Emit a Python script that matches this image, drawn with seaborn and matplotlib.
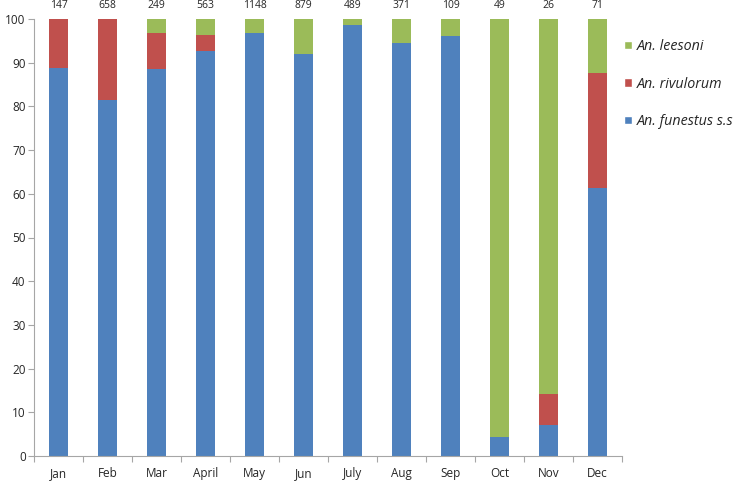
import seaborn as sns
import matplotlib.pyplot as plt
from matplotlib.patches import Patch
import numpy as np
import pandas as pd

MONTHS = ['Jan', 'Feb', 'Mar', 'April', 'May', 'Jun', 'July', 'Aug', 'Sep', 'Oct', 'Nov', 'Dec']
COUNTS = [147, 658, 249, 563, 1148, 879, 489, 371, 109, 49, 26, 71]
FUNESTUS = [88.8, 81.4, 88.6, 92.7, 96.9, 92.0, 98.6, 94.4, 96.2, 4.4, 7.1, 61.4]
RIVULORUM = [11.2, 18.6, 8.3, 3.7, 0.0, 0.0, 0.0, 0.0, 0.0, 0.0, 7.0, 26.3]
LEESONI = [0.0, 0.0, 3.1, 3.6, 3.1, 8.0, 1.4, 5.6, 3.8, 95.6, 85.9, 12.3]

BLUE = '#4F81BD'
RED = '#C0504D'
GREEN = '#9BBB59'
AXIS_GREY = '#A6A6A6'


def main():
    df = pd.DataFrame({
        'month': MONTHS,
        'funestus': FUNESTUS,
        'rivulorum': RIVULORUM,
        'leesoni': LEESONI,
    })
    df['lvl1'] = df.funestus
    df['lvl2'] = df.lvl1 + df.rivulorum
    df['lvl3'] = df.lvl2 + df.leesoni

    sns.set_theme(style='white')
    plt.rcParams['font.family'] = ['Open Sans', 'DejaVu Sans']
    fig = plt.figure(figsize=(7.33, 4.83), dpi=100)
    ax = fig.add_axes([34 / 733, 27 / 483, 588 / 733, 437 / 483])

    # stacked by overdrawing cumulative heights
    for col, color in [('lvl3', GREEN), ('lvl2', RED), ('lvl1', BLUE)]:
        sns.barplot(data=df, x='month', y=col, color=color, width=0.39,
                    saturation=1, ax=ax, order=MONTHS, linewidth=0)

    ax.set_xlim(-0.5, len(MONTHS) - 0.5)
    ax.set_ylim(0, 100)
    ax.set_yticks(np.arange(0, 101, 10))
    ax.set_xlabel('')
    ax.set_ylabel('')
    ax.set_xticks(range(len(MONTHS)))
    ax.set_xticklabels(MONTHS)
    ax.set_xticks(np.arange(-0.5, len(MONTHS)), minor=True)
    ax.tick_params(axis='x', which='major', length=0, pad=8, labelsize=8.5)
    ax.tick_params(axis='x', which='minor', length=4, width=0.8, color=AXIS_GREY,
                   direction='out', bottom=True)
    ax.tick_params(axis='y', length=4, width=0.8, color=AXIS_GREY, direction='out',
                   left=True, labelsize=8.5, pad=2)

    sns.despine(ax=ax)
    for side in ['left', 'bottom']:
        ax.spines[side].set_color(AXIS_GREY)
        ax.spines[side].set_linewidth(0.8)

    for i, n in enumerate(COUNTS):
        ax.text(i, 103, str(n), ha='center', va='center', fontsize=7.5,
                clip_on=False)

    handles = [
        Patch(facecolor=GREEN, label='An. leesoni'),
        Patch(facecolor=RED, label='An. rivulorum'),
        Patch(facecolor=BLUE, label='An. funestus s.s'),
    ]
    leg = fig.legend(handles=handles, loc='upper left', bbox_to_anchor=(624 / 733, 1 - 39 / 483),
                     frameon=False, fontsize=10.3, handlelength=0.55, handleheight=0.55,
                     handletextpad=0.35, labelspacing=1.58, borderaxespad=0, borderpad=0)
    for t in leg.get_texts():
        t.set_fontstyle('italic')

    fig.savefig('out.png', dpi=100)


if __name__ == '__main__':
    main()
